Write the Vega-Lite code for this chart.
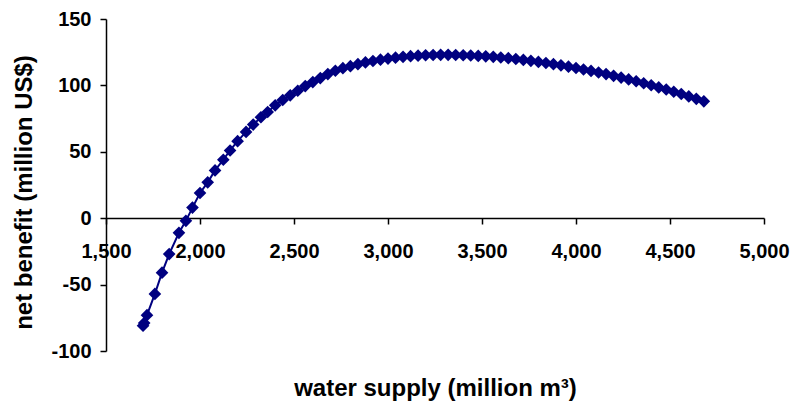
{
  "$schema": "https://vega.github.io/schema/vega-lite/v6.json",
  "autosize": {"type": "none"},
  "padding": {"left": 106, "top": 19, "right": 27, "bottom": 57},
  "width": 658,
  "height": 332,
  "background": "white",
  "config": {
    "view": {"stroke": null},
    "font": "Liberation Sans"
  },
  "data": {
    "values": [
      {"supply": 1697, "benefit": -81},
      {"supply": 1703, "benefit": -79},
      {"supply": 1718, "benefit": -73},
      {"supply": 1760, "benefit": -57},
      {"supply": 1798, "benefit": -41},
      {"supply": 1836, "benefit": -27},
      {"supply": 1888, "benefit": -11},
      {"supply": 1925, "benefit": -2},
      {"supply": 1960, "benefit": 8},
      {"supply": 2000, "benefit": 19},
      {"supply": 2041, "benefit": 27},
      {"supply": 2080, "benefit": 36},
      {"supply": 2124, "benefit": 44},
      {"supply": 2160, "benefit": 51},
      {"supply": 2200, "benefit": 58},
      {"supply": 2245, "benefit": 65},
      {"supply": 2283, "benefit": 70.5},
      {"supply": 2324, "benefit": 76},
      {"supply": 2360, "benefit": 80},
      {"supply": 2400, "benefit": 85},
      {"supply": 2440, "benefit": 89},
      {"supply": 2480, "benefit": 92.5},
      {"supply": 2520, "benefit": 96},
      {"supply": 2560, "benefit": 99.5},
      {"supply": 2600, "benefit": 102.5},
      {"supply": 2640, "benefit": 105.5},
      {"supply": 2680, "benefit": 108.5},
      {"supply": 2720, "benefit": 111},
      {"supply": 2760, "benefit": 113},
      {"supply": 2800, "benefit": 114.5},
      {"supply": 2840, "benefit": 116},
      {"supply": 2880, "benefit": 117.3},
      {"supply": 2920, "benefit": 118.4},
      {"supply": 2960, "benefit": 119.4},
      {"supply": 3000, "benefit": 120.2},
      {"supply": 3040, "benefit": 120.9},
      {"supply": 3080, "benefit": 121.5},
      {"supply": 3120, "benefit": 122},
      {"supply": 3160, "benefit": 122.4},
      {"supply": 3200, "benefit": 122.7},
      {"supply": 3240, "benefit": 122.9},
      {"supply": 3280, "benefit": 123},
      {"supply": 3320, "benefit": 123},
      {"supply": 3360, "benefit": 122.9},
      {"supply": 3400, "benefit": 122.7},
      {"supply": 3440, "benefit": 122.5},
      {"supply": 3480, "benefit": 122.2},
      {"supply": 3520, "benefit": 121.9},
      {"supply": 3560, "benefit": 121.5},
      {"supply": 3600, "benefit": 121},
      {"supply": 3640, "benefit": 120.5},
      {"supply": 3680, "benefit": 119.9},
      {"supply": 3720, "benefit": 119.2},
      {"supply": 3760, "benefit": 118.5},
      {"supply": 3800, "benefit": 117.7},
      {"supply": 3840, "benefit": 116.9},
      {"supply": 3880, "benefit": 116},
      {"supply": 3920, "benefit": 115.1},
      {"supply": 3960, "benefit": 114.1},
      {"supply": 4000, "benefit": 113.1},
      {"supply": 4040, "benefit": 112},
      {"supply": 4080, "benefit": 110.9},
      {"supply": 4120, "benefit": 109.7},
      {"supply": 4160, "benefit": 108.5},
      {"supply": 4200, "benefit": 107.2},
      {"supply": 4240, "benefit": 105.9},
      {"supply": 4280, "benefit": 104.5},
      {"supply": 4320, "benefit": 103.1},
      {"supply": 4360, "benefit": 101.6},
      {"supply": 4400, "benefit": 100.1},
      {"supply": 4440, "benefit": 98.5},
      {"supply": 4480, "benefit": 96.9},
      {"supply": 4520, "benefit": 95.2},
      {"supply": 4560, "benefit": 93.5},
      {"supply": 4600, "benefit": 91.7},
      {"supply": 4640, "benefit": 89.9},
      {"supply": 4680, "benefit": 88}
    ]
  },
  "encoding": {
    "x": {
      "field": "supply",
      "type": "quantitative",
      "scale": {"domain": [1500, 5000], "nice": false, "zero": false},
      "axis": {
        "title": "water supply (million m³)",
        "values": [1500, 2000, 2500, 3000, 3500, 4000, 4500, 5000],
        "format": ",d",
        "grid": false,
        "offset": -133,
        "domainColor": "black",
        "domainWidth": 1.5,
        "tickColor": "black",
        "tickWidth": 1.5,
        "tickSize": 6,
        "labelFont": "Liberation Sans",
        "labelFontWeight": "bold",
        "labelFontSize": 20,
        "labelColor": "black",
        "labelPadding": 17,
        "labelFlush": false,
        "labelOverlap": false,
        "titleFont": "Liberation Sans",
        "titleFontWeight": "bold",
        "titleFontSize": 24,
        "titleColor": "black",
        "titleY": 177,
        "titleBaseline": "alphabetic"
      }
    },
    "y": {
      "field": "benefit",
      "type": "quantitative",
      "scale": {"domain": [-100, 150], "nice": false, "zero": false},
      "axis": {
        "title": "net benefit (million US$)",
        "values": [-100, -50, 0, 50, 100, 150],
        "format": "d",
        "labelExpr": "replace(datum.label, '\u2212', '-')",
        "grid": false,
        "domainColor": "black",
        "domainWidth": 1.5,
        "tickColor": "black",
        "tickWidth": 1.5,
        "tickSize": 6,
        "labelFont": "Liberation Sans",
        "labelFontWeight": "bold",
        "labelFontSize": 20,
        "labelColor": "black",
        "labelPadding": 9,
        "labelFlush": false,
        "labelOverlap": false,
        "titleFont": "Liberation Sans",
        "titleFontWeight": "bold",
        "titleFontSize": 24,
        "titleColor": "black",
        "titleX": -82,
        "titleY": 173,
        "titleAngle": -90,
        "titleBaseline": "middle",
        "titleAlign": "center"
      }
    }
  },
  "layer": [
    {
      "mark": {"type": "line", "color": "#000080", "strokeWidth": 2, "clip": false}
    },
    {
      "mark": {"type": "point", "shape": "diamond", "filled": true, "color": "#000080", "opacity": 1, "size": 160}
    }
  ]
}
